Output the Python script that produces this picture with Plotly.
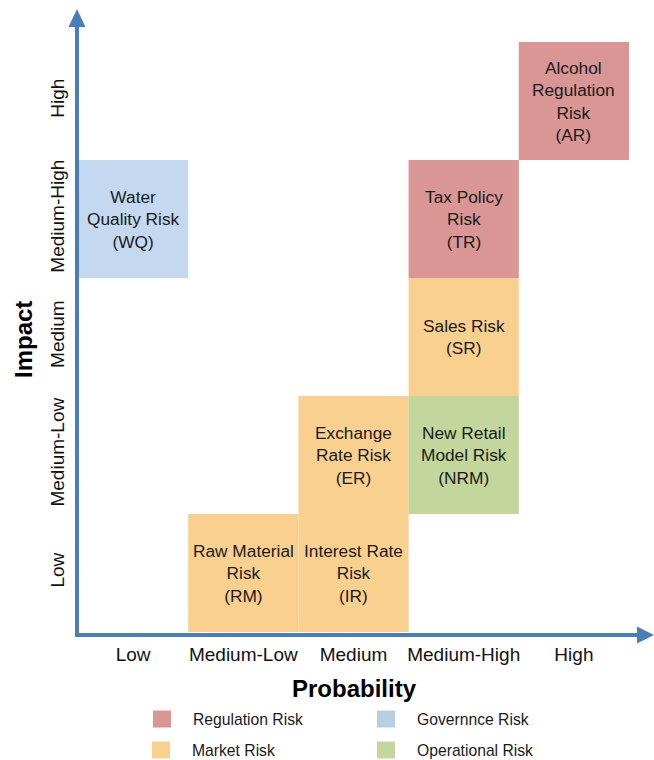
import plotly.graph_objects as go

# Rating scales for both axes
probability_levels = ["Low", "Medium-Low", "Medium", "Medium-High", "High"]
impact_levels = ["Low", "Medium-Low", "Medium", "Medium-High", "High"]

# Risk register: label, probability rating, impact rating, category
risk_labels = [
    "Water<br>Quality Risk<br>(WQ)",
    "Alcohol<br>Regulation<br>Risk<br>(AR)",
    "Tax Policy<br>Risk<br>(TR)",
    "Sales Risk<br>(SR)",
    "New Retail<br>Model Risk<br>(NRM)",
    "Exchange<br>Rate Risk<br>(ER)",
    "Raw Material<br>Risk<br>(RM)",
    "Interest Rate<br>Risk<br>(IR)",
]
risk_probability = ["Low", "High", "Medium-High", "Medium-High", "Medium-High",
                    "Medium", "Medium-Low", "Medium"]
risk_impact = ["Medium-High", "High", "Medium-High", "Medium", "Medium-Low",
               "Medium-Low", "Low", "Low"]
risk_category = ["Governnce Risk", "Regulation Risk", "Regulation Risk", "Market Risk",
                 "Operational Risk", "Market Risk", "Market Risk", "Market Risk"]

categories = ["Regulation Risk", "Governnce Risk", "Market Risk", "Operational Risk"]
category_colors = {
    "Regulation Risk": "#D99694",
    "Governnce Risk": "#C4D8F0",
    "Market Risk": "#FAD08F",
    "Operational Risk": "#C3D69B",
}
legend_colors = {
    "Regulation Risk": "#D99694",
    "Governnce Risk": "#B9CDE5",
    "Market Risk": "#FAD08F",
    "Operational Risk": "#C3D69B",
}

FONT = "Liberation Sans, Arial, sans-serif"
W, H = 654, 760
ML, MR, MT, MB = 78, 25, 42, 128
PW, PH = W - ML - MR, H - MT - MB
AXIS_BLUE = "#4A7EBB"


def px(x):
    return (x - ML) / PW


def py(y):
    return (H - MB - y) / PH


fig = go.Figure()

# One bar trace per category; each bar fills one grid cell
for cat in categories:
    idx = [i for i, c in enumerate(risk_category) if c == cat]
    fig.add_trace(go.Bar(
        x=[probability_levels.index(risk_probability[i]) + 0.5 for i in idx],
        y=[1] * len(idx),
        base=[impact_levels.index(risk_impact[i]) for i in idx],
        width=1,
        marker=dict(color=category_colors[cat], line=dict(width=0)),
        name=cat,
        showlegend=False,
        hoverinfo="skip",
    ))

# Cell labels
for lab, p, im in zip(risk_labels, risk_probability, risk_impact):
    fig.add_annotation(
        x=probability_levels.index(p) + 0.5, y=impact_levels.index(im) + 0.5,
        xref="x", yref="y", text=lab, showarrow=False,
        xanchor="center", yanchor="middle",
        font=dict(family=FONT, size=17.3, color="#1a1a1a"),
        align="center",
    )

shapes = []
# Axis arrows
shapes.append(dict(type="line", xref="paper", yref="paper",
                   x0=px(77), x1=px(77), y0=py(637), y1=py(26),
                   line=dict(color=AXIS_BLUE, width=4)))
shapes.append(dict(type="path", xref="paper", yref="paper",
                   path=f"M {px(68.5)} {py(27)} L {px(77)} {py(9)} L {px(85.5)} {py(27)} Z",
                   fillcolor=AXIS_BLUE, line=dict(width=0)))
shapes.append(dict(type="line", xref="paper", yref="paper",
                   x0=px(75), x1=px(638), y0=py(635), y1=py(635),
                   line=dict(color=AXIS_BLUE, width=4)))
shapes.append(dict(type="path", xref="paper", yref="paper",
                   path=f"M {px(637)} {py(626.5)} L {px(654)} {py(635)} L {px(637)} {py(643.5)} Z",
                   fillcolor=AXIS_BLUE, line=dict(width=0)))

# Legend
legend_pos = {
    "Regulation Risk": (153, 719),
    "Governnce Risk": (377, 719),
    "Market Risk": (152, 750),
    "Operational Risk": (377, 750),
}
for cat in categories:
    lx, ly = legend_pos[cat]
    shapes.append(dict(type="rect", xref="paper", yref="paper",
                       x0=px(lx), x1=px(lx + 18), y0=py(ly - 8.5), y1=py(ly + 8.5),
                       fillcolor=legend_colors[cat], line=dict(width=0)))
    fig.add_annotation(x=px(lx + 38), y=py(ly), xref="paper", yref="paper",
                       text=cat, showarrow=False, xanchor="left", yanchor="middle",
                       font=dict(family=FONT, size=15.7, color="#1a1a1a"))

# Axis titles
fig.add_annotation(x=px(354), y=py(688), xref="paper", yref="paper",
                   text="<b>Probability</b>", showarrow=False,
                   xanchor="center", yanchor="middle",
                   font=dict(family=FONT, size=24, color="black"))
fig.add_annotation(x=px(23), y=py(340), xref="paper", yref="paper",
                   text="<b>Impact</b>", showarrow=False, textangle=-90,
                   xanchor="center", yanchor="middle",
                   font=dict(family=FONT, size=24, color="black"))

fig.update_layout(
    width=W, height=H,
    margin=dict(l=ML, r=MR, t=MT, b=MB),
    paper_bgcolor="white", plot_bgcolor="white",
    shapes=shapes,
    barmode="overlay",
    showlegend=False,
    xaxis=dict(range=[0, 5], tickmode="array",
               tickvals=[i + 0.5 for i in range(5)], ticktext=probability_levels,
               showgrid=False, zeroline=False, showline=False,
               ticks="outside", ticklen=5, tickcolor="rgba(0,0,0,0)",
               tickfont=dict(family=FONT, size=19, color="#111")),
    yaxis=dict(range=[0, 5], tickmode="array",
               tickvals=[i + 0.5 for i in range(5)], ticktext=impact_levels,
               tickangle=-90,
               showgrid=False, zeroline=False, showline=False,
               ticks="outside", ticklen=5, tickcolor="rgba(0,0,0,0)",
               tickfont=dict(family=FONT, size=19, color="#111")),
)

fig.write_html("out.html")
